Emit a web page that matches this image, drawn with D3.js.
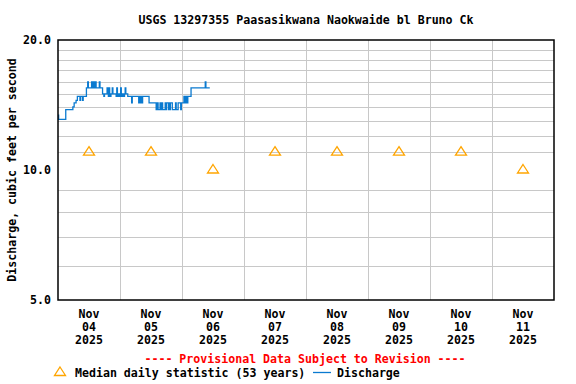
<!DOCTYPE html>
<html>
<head>
<meta charset="utf-8">
<script src="https://cdn.jsdelivr.net/npm/d3@7"></script>
<style>
  body { margin: 0; background: #fff; }
  text { font-family: "DejaVu Sans Mono", monospace; font-weight: bold; font-size: 11.6px; }
</style>
</head>
<body>
<div id="chart"></div>
<script>
// Discharge change points: hours after Nov 04 2025 00:00, value in cfs
const dischargeHours = [
    0, 0.25, 3.0, 5.75, 6.25, 7.0, 7.5, 8.5, 8.75, 9.5, 9.75,
    11.0, 11.5, 11.75, 13.0, 13.25, 13.5, 14.0, 14.25, 14.75, 16.0, 16.25,
    17.25, 17.75, 18.0, 19.0, 19.25, 19.5, 19.75, 20.0, 20.5, 21.0, 21.25,
    22.5, 22.75, 23.0, 23.5, 24.0, 24.25, 24.5, 25.0, 25.25, 25.75, 26.0, 26.25,
    27.0, 28.5, 28.75, 31.25, 31.5, 31.75, 32.25, 32.5, 32.75, 35.25,
    38.0, 38.25, 38.75, 39.5, 39.75, 40.0, 40.5, 41.5, 41.75, 42.0, 42.75,
    43.0, 43.25, 43.5, 44.25, 45.5, 45.75, 46.5, 47.5, 47.75,
    48.75, 49.0, 49.5, 49.75, 50.25, 51.5, 57.0, 57.25, 58.75
];
const dischargeCfs = [
    13.4, 13.1, 13.8, 14.0, 14.3, 14.5, 14.8, 14.5, 14.8, 14.5, 14.8,
    15.5, 16.0, 15.5, 16.0, 15.5, 16.0, 15.5, 16.0, 15.5, 16.0, 15.5,
    15.0, 14.8, 15.0, 15.5, 15.0, 14.8, 15.5, 14.8, 15.0, 15.5, 15.0,
    14.8, 15.5, 14.8, 15.0, 14.8, 15.5, 14.8, 15.0, 14.8, 15.0, 15.5, 15.0,
    14.8, 14.3, 14.8, 14.3, 14.8, 14.3, 14.8, 14.3, 14.8, 14.3,
    13.8, 14.3, 13.8, 14.3, 13.8, 14.3, 13.8, 14.3, 13.8, 14.3, 13.8,
    14.3, 13.8, 14.3, 13.8, 14.3, 13.8, 14.3, 13.8, 14.3,
    14.8, 14.3, 14.8, 14.3, 14.8, 15.5, 16.0, 15.5, 15.5
];

// Median daily statistic, one per day (Nov 04 .. Nov 11)
const medianDays = ["04", "05", "06", "07", "08", "09", "10", "11"];
const medianCfs = [11.0, 11.0, 10.0, 11.0, 11.0, 11.0, 11.0, 10.0];

const yTickValues = [5, 10, 20];
const yGridValues = [6, 7, 8, 9, 11, 12, 13, 14, 15, 16, 17, 18, 19];

const titleText = "USGS 13297355 Paasasikwana Naokwaide bl Bruno Ck";
const yLabelText = "Discharge, cubic feet per second";

const W = 576, H = 384;
const margin = { top: 40, right: 22, bottom: 84, left: 58 };

const svg = d3.select("#chart").append("svg")
    .attr("width", W)
    .attr("height", H);

const start = Date.UTC(2025, 10, 4);
const hour = 3600 * 1000;
const day = 24 * hour;

const x = d3.scaleUtc()
    .domain([new Date(start), new Date(start + 8 * day)])
    .range([margin.left, W - margin.right]);

const y = d3.scaleLog()
    .domain([5, 20])
    .range([H - margin.bottom, margin.top]);

// Grid
svg.append("g").selectAll("line")
    .data(yGridValues)
    .join("line")
    .attr("x1", margin.left).attr("x2", W - margin.right)
    .attr("y1", d => Math.round(y(d)) + 0.5).attr("y2", d => Math.round(y(d)) + 0.5)
    .attr("stroke", "#c8c8c8").attr("stroke-width", 1);

svg.append("g").selectAll("line")
    .data(d3.range(1, 8).map(i => new Date(start + i * day)))
    .join("line")
    .attr("x1", d => Math.round(x(d)) + 0.5).attr("x2", d => Math.round(x(d)) + 0.5)
    .attr("y1", margin.top).attr("y2", H - margin.bottom)
    .attr("stroke", "#c8c8c8").attr("stroke-width", 1);

// Discharge line
const discharge = dischargeHours.map((h, i) => ({ t: new Date(start + h * hour), v: dischargeCfs[i] }));
svg.append("path")
    .datum(discharge)
    .attr("fill", "none")
    .attr("stroke", "#0a7ad0")
    .attr("stroke-width", 1.3)
    .attr("d", d3.line().x(d => x(d.t)).y(d => y(d.v)).curve(d3.curveStepAfter));

// Median triangles
const tri = "M0,-5L5.5,3.5L-5.5,3.5Z";
svg.append("g").selectAll("path")
    .data(medianCfs.map((v, i) => ({ t: new Date(start + i * day + 12 * hour), v })))
    .join("path")
    .attr("transform", d => `translate(${x(d.t)},${y(d.v) - 0.5})`)
    .attr("d", tri)
    .attr("fill", "none")
    .attr("stroke", "#ffa500")
    .attr("stroke-width", 1.3);

// Frame
svg.append("rect")
    .attr("x", margin.left).attr("y", margin.top)
    .attr("width", W - margin.left - margin.right)
    .attr("height", H - margin.top - margin.bottom)
    .attr("fill", "none").attr("stroke", "#000").attr("stroke-width", 1.5);

// Y tick labels
svg.append("g").selectAll("text")
    .data(yTickValues)
    .join("text")
    .attr("x", margin.left - 7)
    .attr("y", d => y(d) + 4)
    .attr("text-anchor", "end")
    .text(d => d3.format(".1f")(d));

// X tick labels (noon of each day)
const xl = svg.append("g").selectAll("text")
    .data(medianDays.map((d, i) => ({ t: new Date(start + i * day + 12 * hour), d })))
    .join("text")
    .attr("text-anchor", "middle")
    .attr("transform", d => `translate(${x(d.t)},0)`);
xl.append("tspan").attr("x", 0).attr("y", 318).text("Nov");
xl.append("tspan").attr("x", 0).attr("y", 331).text(d => d.d);
xl.append("tspan").attr("x", 0).attr("y", 344).text("2025");

// Title
svg.append("text")
    .attr("x", 306).attr("y", 24)
    .attr("text-anchor", "middle")
    .text(titleText);

// Y label
svg.append("text")
    .attr("transform", `translate(16,${(margin.top + H - margin.bottom) / 2}) rotate(-90)`)
    .attr("text-anchor", "middle")
    .text(yLabelText);

// Provisional note
svg.append("text")
    .attr("x", 305).attr("y", 363)
    .attr("text-anchor", "middle")
    .attr("fill", "#ff0000")
    .text("---- Provisional Data Subject to Revision ----");

// Legend
svg.append("path")
    .attr("transform", "translate(60,372)")
    .attr("d", tri)
    .attr("fill", "none").attr("stroke", "#ffa500").attr("stroke-width", 1.3);
svg.append("text").attr("x", 75).attr("y", 377).text("Median daily statistic (53 years)");
svg.append("line")
    .attr("x1", 313).attr("x2", 331).attr("y1", 372.5).attr("y2", 372.5)
    .attr("stroke", "#0a7ad0").attr("stroke-width", 1.3);
svg.append("text").attr("x", 337).attr("y", 377).text("Discharge");
</script>
</body>
</html>
